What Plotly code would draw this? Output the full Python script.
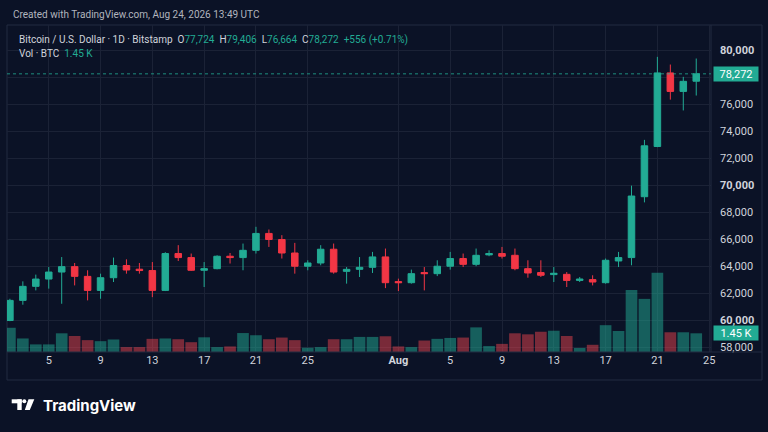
import pandas as pd
import plotly.graph_objects as go

# ==========================================
# Data (BTC/USD, 1D, Bitstamp)
# ==========================================

dates = pd.date_range("2026-07-02", "2026-08-24", freq="D")

opens = [60000, 61490, 62530, 63070, 63590, 63990, 63270, 62230, 63170, 64070,
         63800, 63700, 62230, 64960, 64660, 63720, 63840, 64760, 64660, 65200,
         66450, 66000, 65000, 64020, 64260, 65280, 63640, 63790, 63940, 64710,
         62880, 62800, 63550, 63470, 64020, 64590, 64160, 64860, 64960, 64830,
         63840, 63550, 63400, 63420, 62970, 63030, 62800, 64410, 64660, 69170,
         72890, 78340, 76970, 77724]
highs = [61610, 62900, 63400, 63960, 64700, 64260, 63720, 63470, 64660, 64530,
         64260, 64330, 65060, 65580, 64960, 64330, 64830, 65000, 65700, 66940,
         66740, 66320, 65750, 64460, 65580, 65700, 63960, 64700, 65080, 65330,
         63100, 63770, 63960, 64460, 65080, 64960, 65330, 65200, 65450, 65330,
         64460, 64460, 63960, 63590, 63220, 63350, 64590, 65080, 69990, 73380,
         79530, 78960, 78050, 79406]
lows = [59950, 61170, 62230, 62360, 61240, 62600, 61490, 61610, 62850, 63470,
        63470, 61730, 62180, 64410, 63670, 62480, 63790, 64220, 63720, 64960,
        65450, 64590, 63470, 63720, 64090, 63470, 62730, 63220, 63520, 62400,
        62180, 62730, 62230, 63290, 63770, 63960, 64020, 64760, 64590, 63720,
        63170, 63220, 62850, 62480, 62850, 62600, 62730, 63960, 64090, 68750,
        72840, 76360, 75560, 76664]
closes = [61490, 62530, 63070, 63590, 63990, 63270, 62230, 63170, 64070, 63740,
          63700, 62230, 64960, 64660, 63720, 63840, 64760, 64660, 65200, 66450,
          66000, 65000, 64020, 64260, 65280, 63590, 63790, 63940, 64710, 62800,
          62800, 63470, 63470, 64020, 64590, 64160, 64830, 64960, 64760, 63840,
          63520, 63350, 63500, 62970, 63070, 62850, 64460, 64660, 69220, 72940,
          78340, 76970, 77716, 78272]
volumes = [1880, 1050, 590, 590, 1450, 1240, 920, 840, 970, 380,
           380, 1020, 1050, 990, 760, 1140, 380, 430, 1470, 1300,
           990, 1120, 920, 330, 380, 990, 990, 1170, 1170, 1220,
           430, 380, 890, 1020, 1090, 1120, 1910, 460, 630, 1450,
           1370, 1570, 1650, 1240, 310, 560, 2080, 1630, 4810, 4120,
           6150, 1530, 1530, 1450]

x_tick_dates = ["2026-07-05", "2026-07-09", "2026-07-13", "2026-07-17", "2026-07-21",
                "2026-07-25", "2026-08-01", "2026-08-05", "2026-08-09", "2026-08-13",
                "2026-08-17", "2026-08-21", "2026-08-25"]
x_tick_labels = ["5", "9", "13", "17", "21", "25", "<b>Aug</b>", "5", "9", "13", "17", "21", "25"]
y_tick_values = [58000, 60000, 62000, 64000, 66000, 68000, 70000, 72000, 74000, 76000, 78000, 80000]
y_tick_labels = ["58,000", "<b>60,000</b>", "62,000", "64,000", "66,000", "68,000",
                 "<b>70,000</b>", "72,000", "74,000", "76,000", "", "<b>80,000</b>"]

# ==========================================
# Style
# ==========================================

BG = '#0b1226'
GRID = '#1b2236'
BORDER = '#222a40'
TEXT = '#d1d4dc'
MUTED = '#b2b5be'
UP = '#22ab94'
DOWN = '#f23645'
FONT = 'Roboto'

# plot area in window pixels (768x432)
PX_LEFT, PX_RIGHT, PX_TOP, PX_BOTTOM = 7, 711, 25, 352

# drop the default body margin so the figure sits at (0, 0) on a dark page
PAGE_SCRIPT = ("document.body.style.margin='0';"
               "document.body.style.background='%s';"
               "document.documentElement.style.background='%s';" % (BG, BG))


def px(x):
    """Window pixel x -> paper coordinate."""
    return (x - PX_LEFT) / (PX_RIGHT - PX_LEFT)


def py(y):
    """Window pixel y -> paper coordinate."""
    return (PX_BOTTOM - y) / (PX_BOTTOM - PX_TOP)


def add_candles(fig):
    fig.add_trace(go.Candlestick(
        x=dates, open=opens, high=highs, low=lows, close=closes,
        increasing=dict(line=dict(color=UP, width=1), fillcolor=UP),
        decreasing=dict(line=dict(color=DOWN, width=1), fillcolor=DOWN),
        whiskerwidth=0, showlegend=False, yaxis='y'
    ))


def add_volume(fig):
    colors = ['rgba(34,171,148,0.5)' if c >= o else 'rgba(242,70,80,0.48)'
              for o, c in zip(opens, closes)]
    fig.add_trace(go.Bar(
        x=dates, y=volumes, marker=dict(color=colors, line=dict(width=0)),
        showlegend=False, yaxis='y2'
    ))


def add_texts(fig):
    green = lambda s: f"<span style='color:{UP}'>{s}</span>"
    notes = [
        dict(x=px(10.5), y=py(14.5), text="Created with TradingView.com, Aug 24, 2026 13:49 UTC",
             font=dict(size=10, color=MUTED)),
        dict(x=px(17), y=py(39.5),
             text=("Bitcoin / U.S. Dollar · 1D · Bitstamp  O" + green("77,724") + "  H" + green("79,406")
                   + "  L" + green("76,664") + "  C" + green("78,272") + "  " + green("+556 (+0.71%)")),
             font=dict(size=10, color=TEXT)),
        dict(x=px(17), y=py(53.5), text="Vol · BTC  " + green("1.45 K"),
             font=dict(size=10, color=TEXT)),
        dict(x=px(41), y=py(405), text="<b>TradingView</b>",
             font=dict(size=15, color='#ffffff', family='Inter')),
    ]
    for n in notes:
        fig.add_annotation(xref='paper', yref='paper', xanchor='left', yanchor='middle',
                           showarrow=False, **n)

    # last price / last volume tags on the right scale
    fig.add_annotation(xref='paper', yref='y', x=px(713), y=closes[-1], xanchor='left',
                       yanchor='middle', text=f"{closes[-1]:,}", showarrow=False,
                       bgcolor=UP, width=42, height=12, borderpad=1,
                       font=dict(size=11, color='#ffffff'))
    fig.add_annotation(xref='paper', yref='y2', x=px(713), y=volumes[-1], xanchor='left',
                       yanchor='middle', text=f"{volumes[-1] / 1000:.2f} K", showarrow=False,
                       bgcolor=UP, width=42, height=12, borderpad=1,
                       font=dict(size=11, color='#ffffff'))


def add_shapes(fig):
    line = dict(color=BORDER, width=1)
    fig.add_shape(type='rect', xref='paper', yref='paper', x0=0, x1=px(762),
                  y0=py(380), y1=1, line=line, layer='below')
    fig.add_shape(type='line', xref='paper', yref='paper', x0=0, x1=px(762),
                  y0=0, y1=0, line=line)
    fig.add_shape(type='line', xref='paper', yref='paper', x0=1, x1=1,
                  y0=0, y1=1, line=line)
    # dotted last price line
    fig.add_shape(type='line', xref='paper', yref='y', x0=0, x1=1,
                  y0=closes[-1], y1=closes[-1],
                  line=dict(color='rgba(34,171,148,0.8)', width=1, dash='dot'))
    # TradingView logo glyph
    white = dict(color='#ffffff', width=0)
    fig.add_shape(type='rect', xref='paper', yref='paper', x0=px(11.7), x1=px(21.7),
                  y0=py(403.3), y1=py(399.3), fillcolor='#ffffff', line=white)
    fig.add_shape(type='rect', xref='paper', yref='paper', x0=px(17.3), x1=px(21.7),
                  y0=py(410), y1=py(399.3), fillcolor='#ffffff', line=white)
    fig.add_shape(type='circle', xref='paper', yref='paper', x0=px(22.3), x1=px(26.3),
                  y0=py(403.3), y1=py(399.3), fillcolor='#ffffff', line=white)
    path = "M {} {} L {} {} L {} {} L {} {} Z".format(
        px(28.5), py(399.3), px(34.3), py(399.3), px(29.8), py(410), px(24.8), py(410))
    fig.add_shape(type='path', xref='paper', yref='paper', path=path,
                  fillcolor='#ffffff', line=white)


def configure_layout(fig):
    fig.update_layout(
        width=768, height=432,
        paper_bgcolor=BG, plot_bgcolor=BG,
        margin=dict(l=PX_LEFT, r=768 - PX_RIGHT, t=PX_TOP, b=432 - PX_BOTTOM),
        font=dict(family=FONT, size=11, color=TEXT),
        boxgap=0.28, bargap=0.1,
        hovermode=False,
        xaxis=dict(
            type='date',
            range=["2026-07-01 18:37", "2026-08-25 03:21"],
            rangeslider=dict(visible=False),
            tickvals=x_tick_dates, ticktext=x_tick_labels,
            showgrid=True, gridcolor=GRID, gridwidth=1,
            zeroline=False, showline=False, ticks='',
            tickfont=dict(size=11, color=TEXT),
            automargin=False
        ),
        yaxis=dict(
            side='right', range=[57667, 81889],
            tickvals=y_tick_values, ticktext=y_tick_labels,
            showgrid=True, gridcolor=GRID, gridwidth=1,
            zeroline=False, showline=False, ticks='',
            ticklabelstandoff=8,
            tickfont=dict(size=11, color=TEXT),
            automargin=False
        ),
        yaxis2=dict(
            overlaying='y', range=[0, 25357], visible=False,
            showgrid=False, zeroline=False
        ),
    )


fig = go.Figure()
add_volume(fig)
add_candles(fig)
add_shapes(fig)
add_texts(fig)
configure_layout(fig)
fig.write_html("out.html", post_script=PAGE_SCRIPT, config={'displayModeBar': False})
